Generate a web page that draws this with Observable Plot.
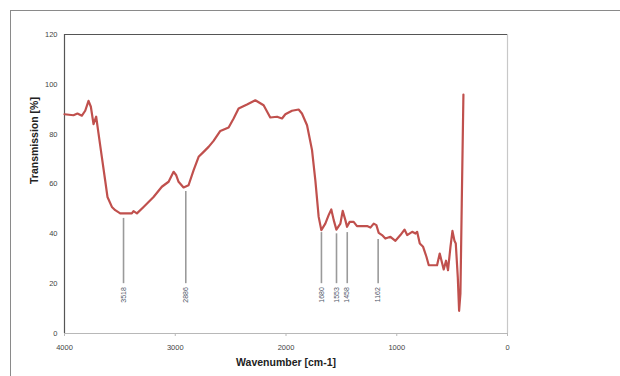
<!DOCTYPE html>
<html>
<head>
<meta charset="utf-8">
<script src="https://cdn.jsdelivr.net/npm/d3@7"></script>
<script src="https://cdn.jsdelivr.net/npm/@observablehq/plot@0.6"></script>
<style>
  html, body { margin: 0; padding: 0; background: #fff; }
  #wrap { position: relative; width: 620px; height: 376px; overflow: hidden; }
  #frame { position: absolute; left: 10px; top: 10px; width: 640px; height: 400px; border-left: 1px solid #8a8a8a; border-top: 1px solid #8a8a8a; }
  #chart { position: absolute; left: 0; top: 0; }
  svg { font-family: "Liberation Sans", Arial, sans-serif; }
</style>
</head>
<body>
<div id="wrap"><div id="frame"></div><div id="chart"></div></div>
<script>
// Spectrum: wavenumber [cm-1] and transmission [%]
const wavenumber = [4000, 3919, 3883, 3843, 3813, 3783, 3762, 3738, 3714, 3693, 3663, 3633, 3612, 3572, 3542, 3497, 3437, 3392, 3377, 3346, 3286, 3196, 3121, 3060, 3015, 2991, 2970, 2925, 2880, 2834, 2789, 2744, 2699, 2654, 2593, 2518, 2473, 2428, 2352, 2277, 2202, 2142, 2081, 2036, 2006, 1946, 1886, 1856, 1810, 1765, 1735, 1705, 1681, 1645, 1615, 1591, 1569, 1545, 1509, 1488, 1464, 1449, 1425, 1389, 1359, 1268, 1238, 1208, 1184, 1163, 1133, 1103, 1057, 1012, 967, 930, 906, 861, 831, 816, 792, 762, 732, 711, 666, 636, 612, 576, 555, 537, 515, 497, 479, 467, 449, 437, 425, 413, 398];
const transmission = [88.0, 87.6, 88.3, 87.4, 89.4, 93.4, 91.0, 84.0, 87.0, 80.3, 70.9, 61.5, 54.8, 50.8, 49.5, 48.2, 48.2, 48.2, 49.1, 48.2, 50.8, 54.8, 58.9, 60.9, 64.9, 63.5, 60.9, 58.6, 59.5, 65.6, 70.9, 72.9, 74.9, 77.3, 81.3, 82.7, 86.3, 90.3, 91.9, 93.6, 91.6, 86.7, 87.0, 86.3, 88.0, 89.4, 89.9, 88.3, 83.6, 73.6, 61.5, 46.8, 41.5, 44.1, 47.5, 49.8, 45.5, 41.7, 44.1, 49.2, 45.5, 42.8, 44.8, 44.8, 43.1, 43.1, 42.5, 44.1, 43.5, 40.4, 39.5, 38.1, 38.8, 37.2, 39.5, 41.7, 39.5, 40.8, 40.1, 40.8, 36.1, 34.8, 30.8, 27.4, 27.4, 27.4, 32.1, 25.7, 29.2, 25.4, 34.8, 41.2, 37.2, 36.1, 22.7, 9.1, 16.1, 52.2, 95.9];

// Peak annotations
const peakLabels = ["3518", "2886", "1680", "1553", "1458", "1162"];
const peakPos = [3467, 2905, 1680, 1544, 1447, 1168];
const peakTop = [46.2, 57.0, 40.5, 40.0, 40.5, 37.7];
const peakBottom = 20;

const xTicks = [4000, 3000, 2000, 1000, 0];
const yTicks = [0, 20, 40, 60, 80, 100, 120];

const spectrum = wavenumber.map((w, i) => ({w, t: transmission[i]}));
const peaks = peakLabels.map((l, i) => ({label: l, x: peakPos[i], top: peakTop[i]}));

const chart = Plot.plot({
  width: 620,
  height: 376,
  marginLeft: 64,
  marginRight: 113,
  marginTop: 34,
  marginBottom: 43,
  style: {background: "transparent"},
  x: {domain: [4000, 0]},
  y: {domain: [0, 120]},
  marks: [
    // frame
    Plot.ruleY([0], {stroke: "#b8b8b8", strokeWidth: 1.2}),
    Plot.ruleX([0], {stroke: "#c8c8c8", strokeWidth: 1.2}),
    Plot.ruleY([120], {stroke: "#555", strokeWidth: 1.2}),
    Plot.ruleX([4000], {stroke: "#555", strokeWidth: 1.2}),
    Plot.axisX({ticks: xTicks, tickFormat: d => String(d), tickSize: 3, tickPadding: 8, fontSize: 7.5, color: "#444", stroke: "#b8b8b8", label: null}),
    Plot.axisY({ticks: yTicks, tickFormat: d => String(d), tickSize: 0, tickPadding: 7, fontSize: 7.5, color: "#444", label: null}),
    // annotation lines
    Plot.ruleX(peaks, {x: "x", y1: peakBottom, y2: "top", stroke: "#9a9a9a", strokeWidth: 1.6}),
    Plot.text(peaks, {x: "x", y: 18.6, text: "label", rotate: -90, textAnchor: "end", fontSize: 7, fill: "#4d5566"}),
    // spectrum
    Plot.line(spectrum, {x: "w", y: "t", stroke: "#c0504d", strokeWidth: 2.2, curve: "linear"}),
    // axis titles
    Plot.text(["Wavenumber [cm-1]"], {frameAnchor: "bottom", dy: 32, fontSize: 10.5, fontWeight: "bold", fill: "#222"}),
    Plot.text(["Transmission [%]"], {frameAnchor: "left", dx: -30, rotate: -90, fontSize: 10.5, fontWeight: "bold", fill: "#222"})
  ]
});
document.getElementById("chart").appendChild(chart);
</script>
</body>
</html>
